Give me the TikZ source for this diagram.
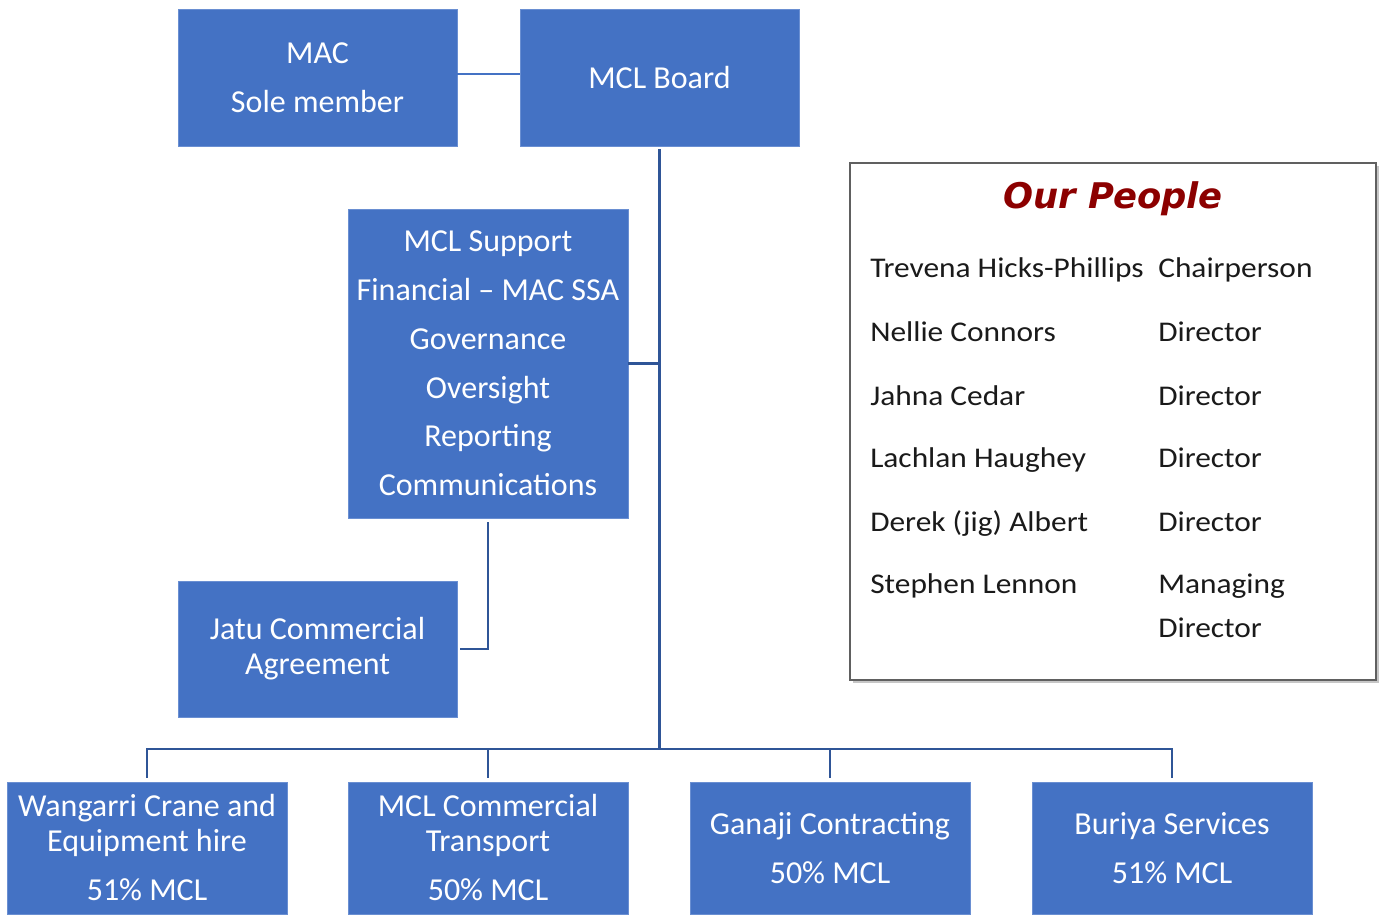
\documentclass[tikz,border=0pt]{standalone}
\usepackage{fontspec}
\setmainfont{Carlito}
\newfontfamily\peoplefont{Carlito}[FakeStretch=1.1]
\newfontfamily\titlefont{DejaVu Sans}
\definecolor{boxblue}{HTML}{4472C4}
\definecolor{boxedge}{HTML}{6A8FD2}
\definecolor{linkblue}{HTML}{2F5597}
\definecolor{titlered}{RGB}{140,0,0}
\definecolor{peopletext}{HTML}{1A1A1A}
\tikzset{
  orgbox/.style={rectangle, fill=boxblue, draw=boxedge, line width=0.6pt,
    text=white, align=center, inner sep=0pt,
    font=\fontsize{24}{36.6}\selectfont},
  tightbox/.style={orgbox, font=\fontsize{24}{26.25}\selectfont},
  link/.style={draw=linkblue, line width=1.9pt},
  thinlink/.style={draw=boxblue, line width=1.1pt},
  person/.style={anchor=base west, inner sep=0pt, text=peopletext,
    font=\peoplefont\fontsize{21.4}{26}\selectfont},
}
\begin{document}
\begin{tikzpicture}[x=0.75pt, y=-0.75pt]
\useasboundingbox (0,0) rectangle (1381,914);

% top row
\node[orgbox, minimum width=209.25pt, minimum height=102.75pt] (mac) at (317.5,77.5) {MAC\\Sole member};
\node[orgbox, minimum width=209.25pt, minimum height=102.75pt] (board) at (659.5,77.5) {MCL Board};

% support services
\node[orgbox, minimum width=210pt, minimum height=231.75pt] (support) at (488,363.5)
  {MCL Support\\Financial -- MAC SSA\\Governance\\Oversight\\Reporting\\Communications};

% commercial agreement
\node[tightbox, minimum width=209.25pt, minimum height=102pt] (jatu) at (317.5,649)
  {Jatu Commercial\\Agreement};

% subsidiaries
\node[tightbox, minimum width=210pt, minimum height=99pt] (wangarri) at (147,848)
  {Wangarri Crane and\\Equipment hire\\[10.5pt]51\% MCL};
\node[tightbox, minimum width=210pt, minimum height=99pt] (transport) at (488,848)
  {MCL Commercial\\Transport\\[10.5pt]50\% MCL};
\node[orgbox, minimum width=210pt, minimum height=99pt] (ganaji) at (830,848)
  {Ganaji Contracting\\50\% MCL};
\node[orgbox, minimum width=210pt, minimum height=99pt] (buriya) at (1172,848)
  {Buriya Services\\51\% MCL};

% connectors
\coordinate (bus) at (659.5,749);
\draw[thinlink] ([yshift=2.5pt]mac.east) -- ([yshift=2.5pt]board.west);
\draw[link, shorten <=2pt] (board.south) -- (bus);
\draw[link, shorten >=1pt] (support.east) -- (support.east -| board.south);
\draw[link, shorten <=3pt, shorten >=2pt] (support.south) |- (jatu.east);
\draw[link, shorten <=3pt] (wangarri.north) |- (bus);
\draw[link, shorten <=3pt] (transport.north) |- (bus);
\draw[link, shorten <=3pt] (ganaji.north) |- (bus);
\draw[link, shorten <=3pt] (buriya.north) |- (bus);

% people panel
\fill[gray!45] (853,166) rectangle (1379,683);
\node[rectangle, fill=white, draw=gray!75!black, line width=1.3pt,
  minimum width=394.5pt, minimum height=387.75pt, inner sep=0pt] (people) at (1113,421.5) {};
\node[text=titlered, inner sep=0pt, font=\titlefont\bfseries\itshape\fontsize{26.5}{30}\selectfont]
  (title) at (1113,199) {Our People};

\node[person] (n1) at (870,277) {Trevena Hicks-Phillips};
\node[person] (r1) at (1158,277) {Chairperson};
\node[person] (n2) at (870,341) {Nellie Connors};
\node[person] (r2) at (1158,341) {Director};
\node[person] (n3) at (870,405) {Jahna Cedar};
\node[person] (r3) at (1158,405) {Director};
\node[person] (n4) at (870,467) {Lachlan Haughey};
\node[person] (r4) at (1158,467) {Director};
\node[person] (n5) at (870,531) {Derek (jig) Albert};
\node[person] (r5) at (1158,531) {Director};
\node[person] (n6) at (870,593) {Stephen Lennon};
\node[person] (r6) at (1158,593) {Managing};
\node[person] (r7) at (1158,637) {Director};
\end{tikzpicture}
\end{document}
